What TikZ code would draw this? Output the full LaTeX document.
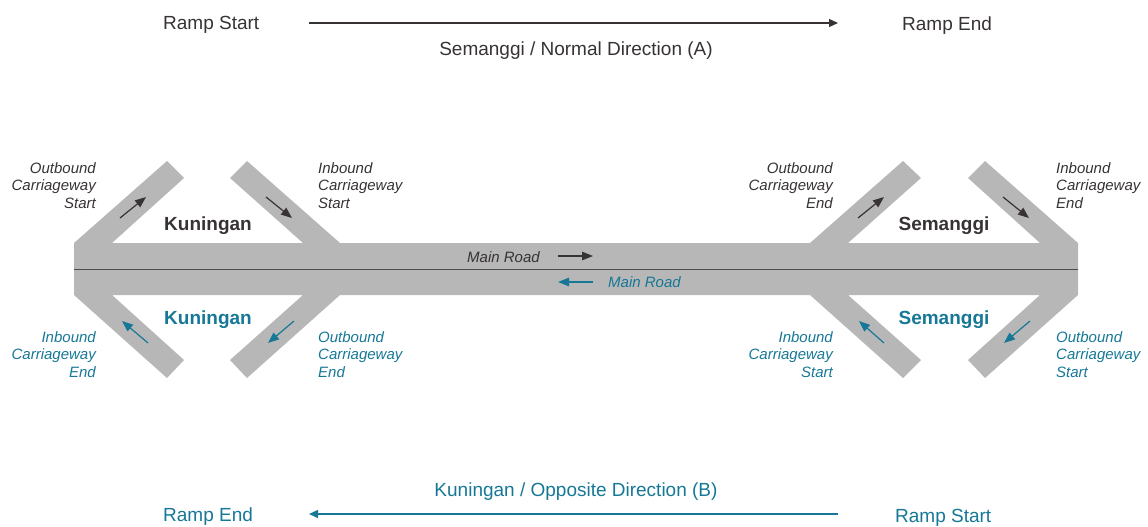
\documentclass[tikz,border=0pt]{standalone}
\usepackage{fontspec}
\setmainfont{Liberation Sans}
\usetikzlibrary{arrows.meta}
\definecolor{roadgray}{RGB}{183,183,183}
\definecolor{darktxt}{RGB}{55,51,52}
\definecolor{tealc}{RGB}{22,120,150}
\definecolor{linegray}{RGB}{75,75,75}
\tikzset{
  lbl/.style={font=\fontsize{15}{17.5}\selectfont\itshape, inner sep=0pt},
  lblR/.style={lbl, align=right, anchor=north east},
  lblL/.style={lbl, align=left, anchor=north west},
  place/.style={font=\fontsize{19}{22}\selectfont\bfseries, inner sep=0pt, anchor=base},
  hdr/.style={font=\fontsize{19}{22}\selectfont, inner sep=0pt},
  roadarr/.style={line width=1.2pt, -{Triangle[length=11pt,width=8.5pt]}},
  longarr/.style={line width=1.4pt, -{Triangle[length=9pt,width=8pt]}},
}
\begin{document}
\begin{tikzpicture}[x=1pt,y=-1pt]
\useasboundingbox (0,0) rectangle (1148,527);
% road network
\fill[roadgray] (74,243) -- (167,161) -- (184,178) -- (112,243) -- (303,243) -- (230,178) -- (247,161) -- (340,243)
  -- (810,243) -- (903,161) -- (921,178) -- (848,243) -- (1040,243) -- (968,178) -- (985,161) -- (1078,243)
  -- (1078,295) -- (985,378) -- (968,360) -- (1040,295) -- (848,295) -- (921,360) -- (903,378) -- (810,295)
  -- (340,295) -- (247,378) -- (230,360) -- (303,295) -- (112,295) -- (184,360) -- (167,378) -- (74,295) -- cycle;
\coordinate (cl1) at (74,269);
\coordinate (cl2) at (1078,269);
\draw[linegray, line width=1pt] (cl1) -- (cl2);

% header / footer
\node[hdr, anchor=base west, text=darktxt] (rsA) at (163,30) {Ramp Start};
\node[hdr, anchor=base west, text=darktxt] (reA) at (902,31) {Ramp End};
\node[hdr, anchor=base, text=darktxt] (dirA) at (576,56) {Semanggi / Normal Direction (A)};
\coordinate (a1s) at (309,23);
\coordinate (a1e) at (838,23);
\draw[longarr, darktxt] (a1s) -- (a1e);

\node[hdr, anchor=base, text=tealc] (dirB) at (576,496) {Kuningan / Opposite Direction (B)};
\node[hdr, anchor=base west, text=tealc] (reB) at (163,521) {Ramp End};
\node[hdr, anchor=base west, text=tealc] (rsB) at (895,522) {Ramp Start};
\coordinate (b1s) at (838,514);
\coordinate (b1e) at (309,514);
\draw[longarr, tealc] (b1s) -- (b1e);

% place names
\node[place, text=darktxt] (kun1) at (208,230) {Kuningan};
\node[place, text=tealc] (kun2) at (208,324) {Kuningan};
\node[place, text=darktxt] (sem1) at (944,230) {Semanggi};
\node[place, text=tealc] (sem2) at (944,324) {Semanggi};

% carriageway labels
\node[lblR, text=darktxt] (l1) at (96,162.3) {Outbound\\Carriageway\\Start};
\node[lblL, text=darktxt] (l2) at (318,162.3) {Inbound\\Carriageway\\Start};
\node[lblR, text=tealc] (l3) at (96,331.4) {Inbound\\Carriageway\\End};
\node[lblL, text=tealc] (l4) at (318,331.4) {Outbound\\Carriageway\\End};
\node[lblR, text=darktxt] (l5) at (833,162.3) {Outbound\\Carriageway\\End};
\node[lblL, text=darktxt] (l6) at (1056,162.3) {Inbound\\Carriageway\\End};
\node[lblR, text=tealc] (l7) at (833,331.4) {Inbound\\Carriageway\\Start};
\node[lblL, text=tealc] (l8) at (1056,331.4) {Outbound\\Carriageway\\Start};

% main road labels
\node[lbl, anchor=base west, text=darktxt] (mr1) at (467,262) {Main Road};
\node[lbl, anchor=base west, text=tealc] (mr2) at (608,287) {Main Road};
\coordinate (m1s) at (558,256); \coordinate (m1e) at (593,256);
\coordinate (m2s) at (593,282); \coordinate (m2e) at (558,282);
\draw[roadarr, darktxt] (m1s) -- (m1e);
\draw[roadarr, tealc] (m2s) -- (m2e);

% ramp arrows
\coordinate (r1s) at (120,218);  \coordinate (r1e) at (146,197);
\coordinate (r2s) at (266,197);  \coordinate (r2e) at (292,218);
\coordinate (r3s) at (148,343);  \coordinate (r3e) at (122,321);
\coordinate (r4s) at (294,321);  \coordinate (r4e) at (268,343);
\coordinate (r5s) at (858,218);  \coordinate (r5e) at (884,197);
\coordinate (r6s) at (1003,197); \coordinate (r6e) at (1029,218);
\coordinate (r7s) at (884,343);  \coordinate (r7e) at (859,321);
\coordinate (r8s) at (1030,321); \coordinate (r8e) at (1004,343);
\draw[roadarr, darktxt] (r1s) -- (r1e);
\draw[roadarr, darktxt] (r2s) -- (r2e);
\draw[roadarr, tealc] (r3s) -- (r3e);
\draw[roadarr, tealc] (r4s) -- (r4e);
\draw[roadarr, darktxt] (r5s) -- (r5e);
\draw[roadarr, darktxt] (r6s) -- (r6e);
\draw[roadarr, tealc] (r7s) -- (r7e);
\draw[roadarr, tealc] (r8s) -- (r8e);
\end{tikzpicture}
\end{document}
